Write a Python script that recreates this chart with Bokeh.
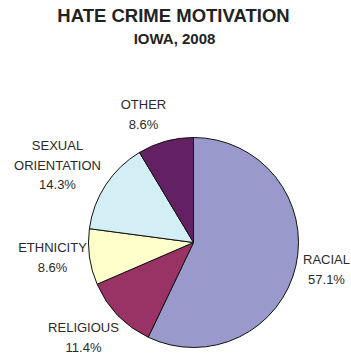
import math
from bokeh.plotting import figure
from bokeh.models import Range1d
from bokeh.core.properties import value
from bokeh.embed import file_html
from bokeh.resources import INLINE

# ---- data ----
categories = ["RACIAL", "RELIGIOUS", "ETHNICITY", "SEXUAL ORIENTATION", "OTHER"]
percents = [57.1, 11.4, 8.6, 14.3, 8.6]
colors = ["#9999CC", "#993366", "#FFFFCC", "#D4EEF5", "#632063"]
title_text = "HATE CRIME MOTIVATION"
subtitle_text = "IOWA, 2008"

# label line splits (text content)
label_lines = {
    "RACIAL": ["RACIAL"],
    "RELIGIOUS": ["RELIGIOUS"],
    "ETHNICITY": ["ETHNICITY"],
    "SEXUAL ORIENTATION": ["SEXUAL", "ORIENTATION"],
    "OTHER": ["OTHER"],
}

# ---- layout (screen pixel coordinates) ----
W, H = 351, 353
OX, OY = 0, 0


def dx(sx):
    return sx - OX


def dy(sy):
    return (OY + H) - sy


pie_cx, pie_cy, pie_r = 193, 242, 105
label_anchor = {
    "RACIAL": (326, 259),
    "RELIGIOUS": (83, 327),
    "ETHNICITY": (52, 247),
    "SEXUAL ORIENTATION": (57, 145),
    "OTHER": (143, 104),
}
line_h = 19.5

p = figure(width=W, height=H, output_backend="svg", toolbar_location=None,
           x_range=Range1d(0, W), y_range=Range1d(0, H), min_border=0)
p.axis.visible = False
p.grid.visible = False
p.outline_line_color = None
p.background_fill_color = "white"
p.border_fill_color = "white"

# wedges, clockwise from 12 o'clock
total = sum(percents)
starts, ends = [], []
cum = 0.0
for v in percents:
    a0 = math.pi / 2 - 2 * math.pi * cum / total
    cum += v
    a1 = math.pi / 2 - 2 * math.pi * cum / total
    starts.append(a0)
    ends.append(a1)

p.wedge(x=[dx(pie_cx)] * len(percents), y=[dy(pie_cy)] * len(percents),
        radius=pie_r, start_angle=starts, end_angle=ends, direction="clock",
        fill_color=colors, line_color="#111111", line_width=1)

# titles
p.text(x=[dx(173)], y=[dy(14.5)], text=[title_text], text_font=value("Liberation Sans"),
       text_font_style="bold", text_font_size="18.5px", text_align="center",
       text_baseline="middle", text_color="#222222")
p.text(x=[dx(174)], y=[dy(37.5)], text=[subtitle_text], text_font=value("Liberation Sans"),
       text_font_style="bold", text_font_size="15px", text_align="center",
       text_baseline="middle", text_color="#222222")

# slice labels
lx, ly, lt = [], [], []
for cat, v in zip(categories, percents):
    ax, ay = label_anchor[cat]
    lines = label_lines[cat] + ["%.1f%%" % v]
    for i, s in enumerate(lines):
        lx.append(dx(ax))
        ly.append(dy(ay + i * line_h))
        lt.append(s)

p.text(x=lx, y=ly, text=lt, text_font=value("Liberation Sans"),
       text_font_size="13px", text_align="center", text_baseline="middle",
       text_color="#2a2a2a")

open("out.html", "w").write(file_html(p, INLINE))
